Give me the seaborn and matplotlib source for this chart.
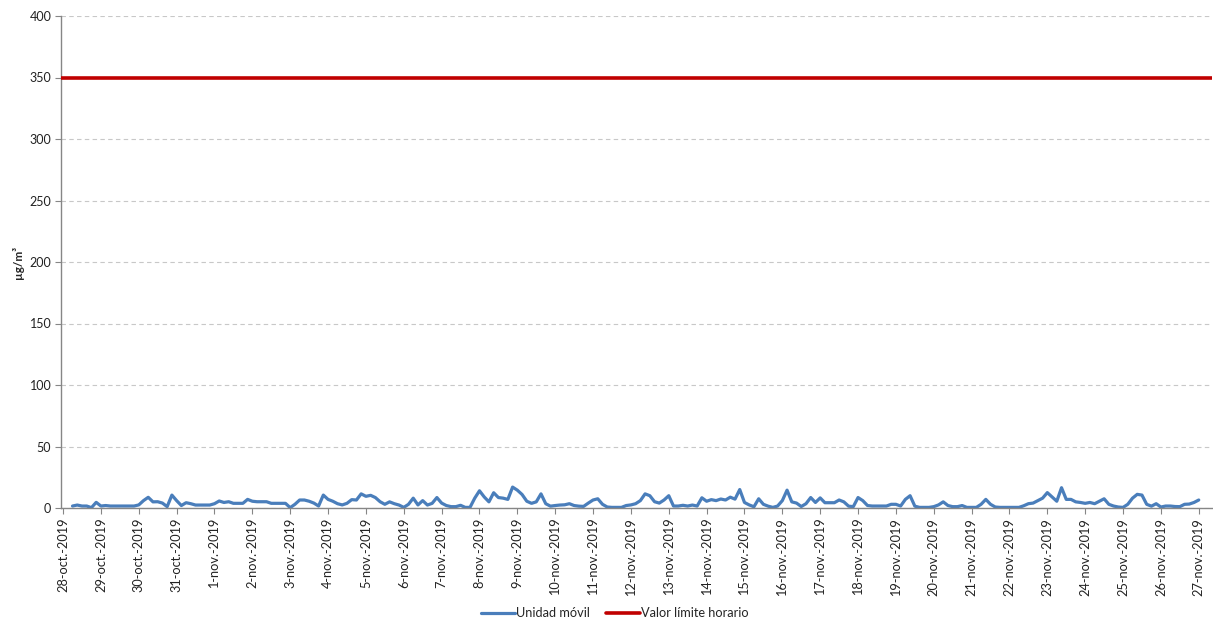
import matplotlib
matplotlib.use("Agg")
import matplotlib.pyplot as plt
import seaborn as sns
import pandas as pd

# ---- data (3-hourly readings, µg/m³) ----
START = "2019-10-28 06:00"
STEP = "3h"
UNIDAD_MOVIL = [
    1.6, 2.4, 1.6, 1.6, 0.3, 4.6,
    1.6, 2.0, 1.6, 1.6, 1.6, 1.6, 1.6, 1.6,
    2.5, 6.0, 8.7, 5.0, 5.1, 4.0, 1.1, 10.5,
    6.0, 2.0, 4.3, 3.5, 2.4, 2.4, 2.4, 2.4,
    3.5, 5.7, 4.5, 5.1, 3.8, 3.8, 3.8, 7.0,
    5.5, 5.1, 5.1, 5.1, 3.8, 3.8, 3.8, 3.8,
    0.3, 3.0, 6.5, 6.5, 5.5, 4.0, 1.6, 10.5,
    7.0, 5.5, 3.5, 2.5, 3.8, 6.8, 6.5, 11.5,
    9.5, 10.3, 8.5, 5.1, 3.0, 5.0, 3.5, 2.4,
    0.5, 3.0, 8.0, 2.5, 6.0, 2.4, 3.8, 8.5,
    4.0, 2.0, 1.1, 1.1, 2.2, 0.5, 0.5, 8.0,
    14.0, 9.0, 5.0, 12.4, 8.5, 8.0, 7.0, 17.0,
    14.5, 11.0, 5.5, 3.8, 5.0, 11.5, 3.5, 1.5,
    2.0, 2.4, 2.6, 3.5, 2.0, 1.5, 1.3, 4.0,
    6.5, 7.5, 3.0, 0.8, 0.5, 0.5, 0.5, 2.0,
    2.5, 3.5, 6.0, 11.5, 10.0, 5.1, 4.0, 6.5,
    10.0, 1.6, 1.6, 2.2, 1.6, 2.4, 1.6, 8.3,
    5.5, 6.8, 6.0, 7.3, 6.5, 8.8, 7.2, 15.0,
    4.5, 2.5, 1.0, 7.5, 3.0, 1.5, 0.5, 1.6,
    6.0, 14.5, 5.0, 4.0, 1.2, 3.5, 8.5, 4.5,
    8.2, 4.3, 4.3, 4.3, 6.5, 5.0, 1.5, 1.1,
    8.5, 6.0, 2.0, 1.6, 1.6, 1.6, 1.6, 3.0,
    3.0, 1.6, 7.0, 10.0, 1.5, 0.5, 0.5, 0.5,
    1.1, 2.5, 5.0, 2.0, 1.1, 1.1, 2.0, 0.5,
    0.5, 0.5, 3.0, 7.0, 3.0, 0.8, 0.5, 0.5,
    0.5, 0.5, 0.5, 1.8, 3.5, 4.0, 6.0, 8.0,
    12.5, 9.0, 5.5, 16.5, 7.0, 7.0, 5.0, 4.5,
    3.8, 4.5, 3.5, 5.5, 7.5, 3.0, 1.6, 0.8,
    0.5, 3.0, 8.0, 11.1, 10.5, 3.0, 1.5, 3.5,
    0.8, 1.6, 1.6, 1.2, 1.1, 3.0, 3.2, 4.5,
    6.5,
]
VALOR_LIMITE = 350
SERIES_NAMES = ["Unidad móvil", "Valor límite horario"]
Y_TICKS = [0, 50, 100, 150, 200, 250, 300, 350, 400]
Y_LABEL = "µg/m³"
TICK_DATES = pd.date_range("2019-10-28", "2019-11-27", freq="D")
TICK_LABELS = [
    "28-oct.-2019", "29-oct.-2019", "30-oct.-2019", "31-oct.-2019",
    "1-nov.-2019", "2-nov.-2019", "3-nov.-2019", "4-nov.-2019",
    "5-nov.-2019", "6-nov.-2019", "7-nov.-2019", "8-nov.-2019",
    "9-nov.-2019", "10-nov.-2019", "11-nov.-2019", "12-nov.-2019",
    "13-nov.-2019", "14-nov.-2019", "15-nov.-2019", "16-nov.-2019",
    "17-nov.-2019", "18-nov.-2019", "19-nov.-2019", "20-nov.-2019",
    "21-nov.-2019", "22-nov.-2019", "23-nov.-2019", "24-nov.-2019",
    "25-nov.-2019", "26-nov.-2019", "27-nov.-2019",
]

df = pd.DataFrame({
    "fecha": pd.date_range(START, periods=len(UNIDAD_MOVIL), freq=STEP),
    "valor": UNIDAD_MOVIL,
})

sns.set_theme(style="white")
plt.rcParams["font.family"] = ["Lato", "DejaVu Sans"]

fig = plt.figure(figsize=(12.13, 6.20), dpi=100)
ax = fig.add_axes([61 / 1213, 1 - 508 / 620, (1212 - 61) / 1213, (508 - 16) / 620])

BLUE = "#4a7ebb"
RED = "#c00000"

sns.lineplot(data=df, x="fecha", y="valor", ax=ax, color=BLUE, linewidth=2.3,
             label=SERIES_NAMES[0], legend=False)
ax.axhline(VALOR_LIMITE, color=RED, linewidth=2.6, label=SERIES_NAMES[1], zorder=3)

ax.set_ylim(0, 400)
ax.set_yticks(Y_TICKS)
ax.set_yticklabels([str(v) for v in Y_TICKS], fontsize=9, color="#222222")
ax.yaxis.grid(True, linestyle=(0, (4, 3)), color="#c8c8c8", linewidth=0.8)
ax.xaxis.grid(False)

x0 = TICK_DATES[0] - pd.Timedelta(hours=1.3)
x1 = TICK_DATES[-1] + pd.Timedelta(hours=8.4)
ax.set_xlim(x0, x1)
ax.set_xticks(TICK_DATES)
ax.set_xticklabels(TICK_LABELS, rotation=90, fontsize=9.2, color="#222222")

ax.set_xlabel("")
ax.set_ylabel(Y_LABEL, fontsize=8.5, fontweight="bold", labelpad=4)

for s in ["top", "right"]:
    ax.spines[s].set_visible(False)
for s in ["left", "bottom"]:
    ax.spines[s].set_color("#868686")
    ax.spines[s].set_linewidth(1.0)
ax.tick_params(axis="both", which="major", length=4, width=0.8, color="#868686",
               direction="out", pad=3, left=True, bottom=True)

handles, labels = ax.get_legend_handles_labels()
fig.legend(handles, labels, loc="center", bbox_to_anchor=(615 / 1213, 1 - 613 / 620),
           ncol=2, frameon=False, fontsize=9.2, handlelength=2.6, columnspacing=1.3,
           handletextpad=0.1)

fig.savefig("out.png", dpi=100)
